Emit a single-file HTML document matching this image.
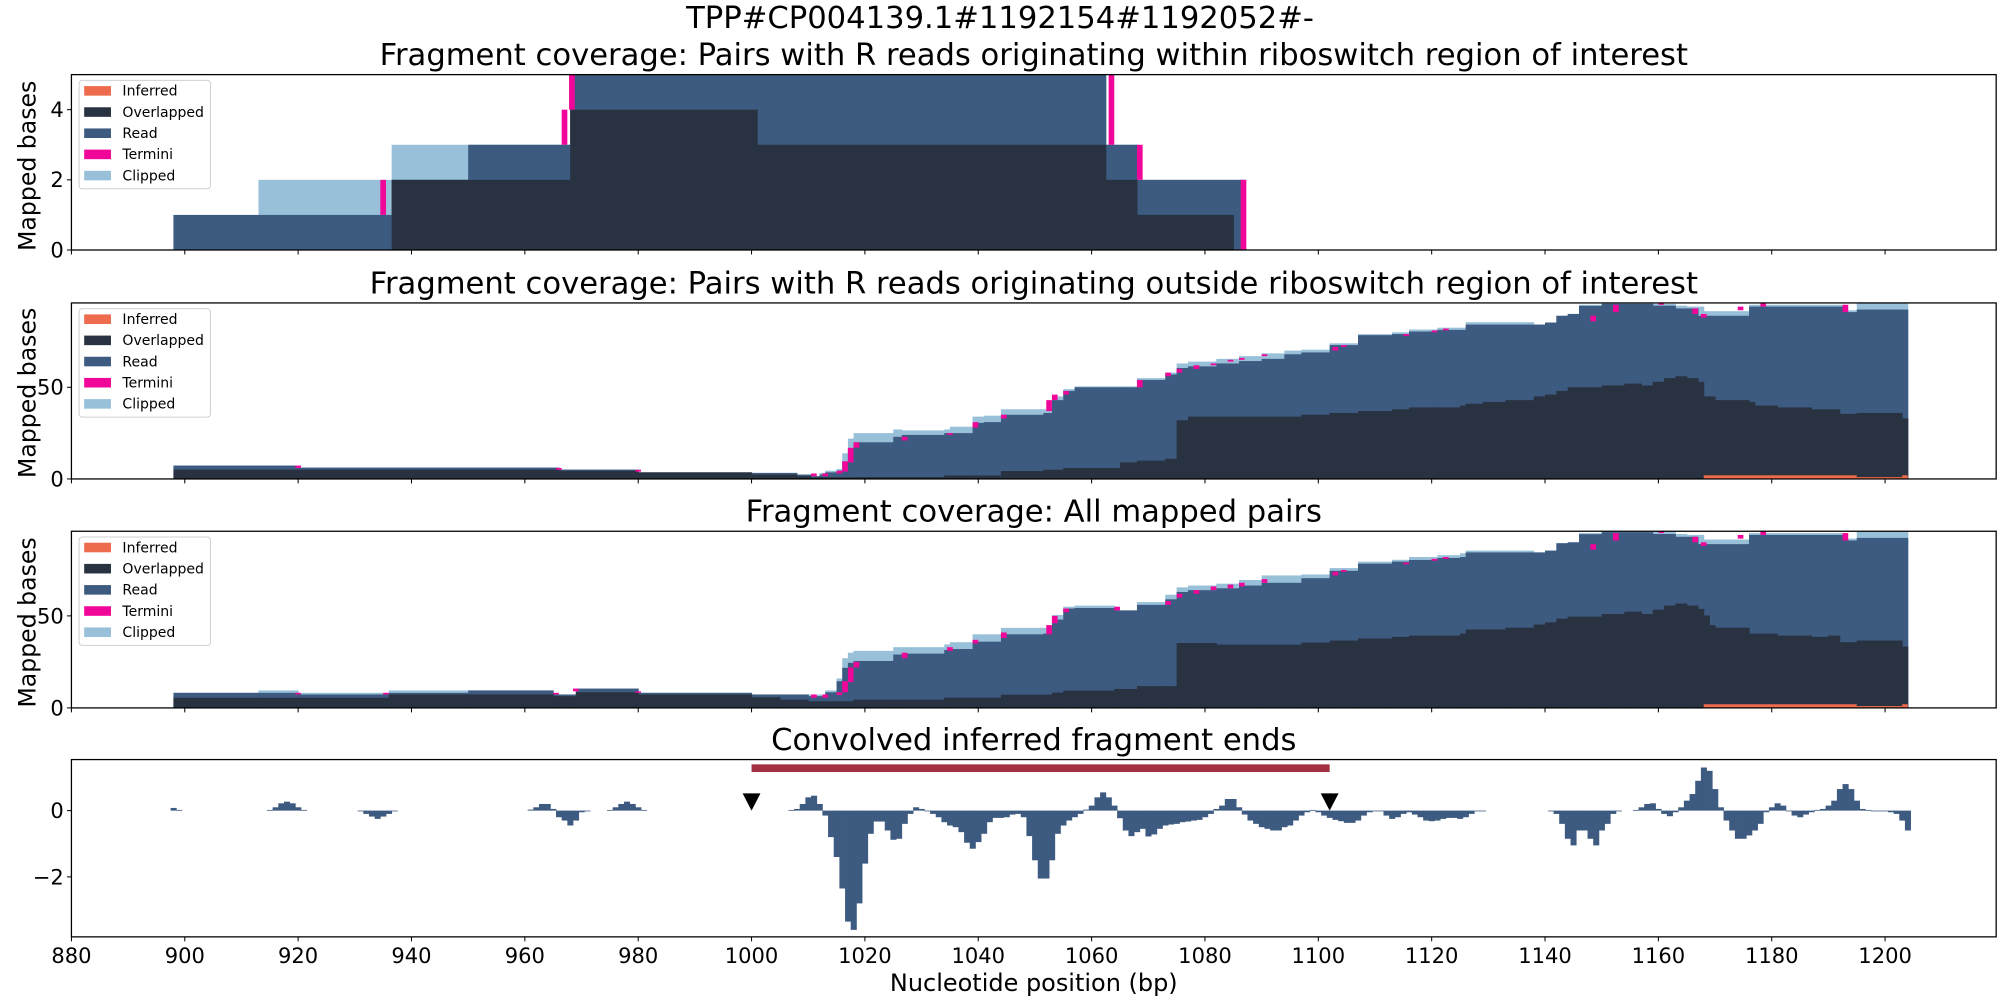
<!DOCTYPE html>
<html><head><meta charset="utf-8"><style>
html,body{margin:0;padding:0;background:#fff;}
svg{display:block;font-family:"DejaVu Sans","Liberation Sans",sans-serif;}
</style></head><body>
<svg id="chart" width="2000" height="1000" viewBox="0 0 1568 784" preserveAspectRatio="none" xmlns="http://www.w3.org/2000/svg">
<text x="784" y="22" font-size="24" text-anchor="middle">TPP#CP004139.1#1192154#1192052#-</text>
</svg>
<script>
// ---------- data ----------
const xTicks = [880,900,920,940,960,980,1000,1020,1040,1060,1080,1100,1120,1140,1160,1180,1200];
const legendLabels = ["Inferred","Overlapped","Read","Termini","Clipped"];

const p1Start = [898,913,935,936.5,950,968,1001,1062.5,1068,1085];
const p1End = 1087;
const p1Overlap = [0,0,0,2,2,4,3,2,1,0];
const p1Read    = [1,1,1,2,3,5,5,3,2,2];
const p1Clip    = [1,2,2,3,3,5,5,3,2,2];
const p1TermPos = [934.5,966.5,967.8,1063,1068,1086.3];
const p1TermLo  = [1,3,4,3,2,0];
const p1TermHi  = [2,4,5,5,3,2];
const p1Ticks = [0,2,4];

const p2Start = [898,920,966,980,1000,1008,1010.5,1012,1013,1015,
 1016,1017,1018,1025,1026.5,1034,1035,1039,1041,1044,
 1051.5,1053,1055,1057,1065,1068,1073,1075,1077,1082,
 1086,1090,1094,1097,1102,1107,1113,1116,1121,1125,
 1126,1129,1133,1138,1140,1142,1144,1146,1150,1154,
 1157,1159,1161,1163,1165,1167,1168,1170,1176,1177,
 1181,1187,1190,1192,1193,1195,1203];
const p2End = 1204;
const p2Overlap = [5.1,5.1,4.5,3.6,2.4,1.5,0.9,0.9,0.9,0.9,
 0.9,0.9,1,1,1,1.9,1.9,1.9,1.9,4.3,
 5,5,6,6,9,10,11,32,34,34,
 34,34,34,35,36,37,38,39,39,40,
 41,42,43,45,46,48,50,50,51,52,
 51,53,55,56,55,53,45,43,42,40,
 39,38,38,35.5,35.5,36,33];
const p2Read = [7.3,6.2,5.1,3.6,3.3,2.4,1.5,2.4,3.6,4.5,
 9.6,16.7,20,23,24,25,25,30.6,31,35,
 36,43,48,50,50,54,57,60.5,61.4,63,
 64.3,65.5,68,69,73,78.4,79,80.4,81.3,81.3,
 84.2,84.2,84.2,84.2,85.3,89,90,94.4,95.5,95.5,
 95.5,94.5,94.5,93,93,89,89,89,94,94,
 94,94,94,94,91,92.4,92.4];
const p2Clip = [7.3,6.2,5.1,3.6,3.3,2.4,1.5,3.3,4.5,5.4,
 14,22,25,27,26.5,27,28.5,34,34.5,38,
 38,45,49,50.5,50.5,55,58,63,64,65.5,
 67,68.5,70,70.5,74,79,80,81.5,82.5,82.5,
 85.5,85.5,85.5,84.2,85.3,89,90,95,96,96,
 96,95.5,95.5,94.5,94,94,91.5,91.5,95,95,
 95,95,95,95,92,96,96];
const p2InfStart = [1168,1195,1203];
const p2InfEnd = [1195,1203,1204];
const p2InfVal = [2,1,2];
const p2TermPos = [919.5,965.5,979.5,1010.5,1012.5,1015,1016,1017,1018,1026.5,1034.5,1039,1044,1052,1053,1055,1068,1073,1075,1078,1081,1084,1086,1090,1102.5,1104,1115,1120,1122,1148,1152,1160,1166,1167.5,1174,1178,1192.5];
const p2TermLo  = [6,5,4,1.5,1.5,3,4,9,17,21,24,28,33,37,43,46,50,56,58,60,62,64,65,67,70,72,78,80,81,86,91,95,90,88,92,94,91];
const p2TermHi  = [7.3,6,5,3,3,4.5,9.6,17,20,23,25,31,35,43,46,48,54,58,60,62,63,65,66,68,72,73,79,81,82,89,95,96,93,90,94,96,95];
const p3Ticks = [0,50];

const p3Start = [898,913,920,936,950,965,969,980,1000,1005,
 1010,1013,1015,1016,1017,1018,1025,1026.5,1034,1035,
 1039,1044,1051.5,1053,1055,1057,1064,1068,1073,1075,
 1077,1082,1086,1090,1097,1102,1107,1113,1116,1121,
 1125,1126,1133,1138,1140,1142,1144,1146,1150,1154,
 1157,1159,1161,1163,1165,1167,1168,1169,1170,1176,
 1181,1187,1190,1192,1193,1195,1203];
const p3End = 1204;
const p3Overlap = [5.5,5.5,5.5,7.3,7.3,6.4,8.5,7.3,5.8,4.5,
 3.6,3.6,3.6,3.6,3.6,4.5,4.5,4.5,5.6,5.6,
 5.6,7.2,7.2,8.3,9.4,9.4,10.3,11.8,11.8,35.3,
 35.3,34.4,34.4,34.4,35.5,36.6,37.7,38.6,39.3,39.3,
 40.4,42.6,43.6,45.3,46.5,48.5,49.6,49.6,51,52.3,
 51,53.4,55.6,56.7,55.6,53.8,50.2,45,43.6,40.4,
 39.3,38.6,39.3,35.7,35.7,36.6,33.3];
const p3Read = [8.2,8.2,7.3,8.2,9.5,7.3,10.5,8.2,7.3,7.3,
 6.4,8.5,14.5,21.8,24.5,25.5,29,29.5,31.5,32,
 36,40,40.4,48,54,54.3,53,56,59,63,
 64,65,66.5,68,70.5,74.5,78.4,79.5,80.4,81.5,
 82,84.5,84.5,84.5,85.5,89.5,90,94.4,95.5,95.5,
 95.5,94.5,94.5,93,93,89,89,89,89,94,
 94,94,94,94,91,92.4,92.4];
const p3Clip = [8.2,9.5,8.2,9.5,9.5,7.3,10.5,8.2,7.3,7.3,
 7.3,9.5,16,27,30,31,33,33,34.5,35.7,
 40,43.5,43.5,50.5,55,55.6,53,57.5,61.5,65.5,
 66.5,67.5,69.5,72,72.5,76,79.5,80.5,82,83,
 84,85.5,85.5,84.5,85.5,89.5,90,95,96,96,
 96,96,96,94.5,94,94,91.5,91.5,91.5,95,
 95,95,95,95,92,96,96];
const p3InfStart = [1168,1195,1203];
const p3InfEnd = [1195,1203,1204];
const p3InfVal = [2,1,2];
const p3TermPos = [919.5,935,965,968.5,979.5,1010.5,1012.5,1015,1016,1017,1018,1026.5,1034.5,1039,1044,1052,1053,1055,1064,1073,1075,1078,1081,1084,1086,1090,1102.5,1104,1115,1120,1122,1148,1152,1160,1166,1167.5,1174,1178,1192.5];
const p3TermLo  = [7.3,7.3,7.3,9,8.2,5.5,5.5,7,8.5,14,22,27,31,35,38,40,46,52,53,56,60,62,64,65,66,68,72,74,78,80,81,86,91,95,90,88,92,94,91];
const p3TermHi  = [8.2,8.2,8.2,10.5,9,7.3,7.3,8.5,14.5,22,25,30,33,37,41,45,50,54,55,58,62,64,66,67,68,70,74,75,79,81,82,89,95,96,93,90,94,96,95];

const p4Pos = [898,899,
 915,916,917,918,919,920,921,
 931,932,933,934,935,936,937,
 961,962,963,964,965,966,967,968,969,970,971,
 975,976,977,978,979,980,981,
 1007,1008,1009,1010,1011,1012,1013,1014,1015,1016,1017,1018,1019,1020,1021,1022,1023,1024,1025,1026,1027,1028,1029,1030,1031,1032,1033,1034,1035,1036,1037,1038,1039,1040,1041,1042,
 1043,1044,1045,1046,1047,1048,1049,1050,1051,1052,1053,1054,1055,1056,1057,1058,1059,1060,1061,1062,1063,1064,1065,1066,1067,1068,1069,1070,1071,1072,1073,1074,1075,1076,1077,1078,1079,1080,1081,1082,1083,1084,1085,1086,1087,1088,1089,1090,1091,1092,1093,1094,1095,1096,1097,1098,1099,1100,1101,1102,1103,1104,1105,1106,1107,1108,1109,1110,1111,1112,1113,1114,1115,1116,1117,1118,1119,1120,1121,1122,1123,1124,1125,1126,1127,1128,1129,
 1141,1142,1143,1144,1145,1146,1147,1148,1149,1150,1151,1152,1153,
 1156,1157,1158,1159,1160,1161,1162,1163,1164,1165,1166,1167,1168,1169,1170,1171,1172,1173,1174,1175,1176,1177,1178,1179,1180,1181,1182,1183,1184,1185,1186,1187,1188,1189,1190,1191,1192,1193,1194,1195,1196,1197,1198,1199,1200,1201,1202,1203,1204];
const p4Val = [0.08,0.02,
 0.02,0.1,0.22,0.27,0.22,0.1,0.02,
 -0.02,-0.1,-0.18,-0.25,-0.18,-0.1,-0.02,
 0.03,0.1,0.2,0.2,0.05,-0.2,-0.3,-0.45,-0.3,-0.05,-0.02,
 0.02,0.1,0.2,0.27,0.2,0.1,0.02,
 0.02,0.05,0.2,0.4,0.45,0.2,-0.15,-0.8,-1.4,-2.35,-3.35,-3.6,-2.8,-1.6,-0.7,-0.33,-0.33,-0.6,-0.88,-0.85,-0.4,-0.1,0.1,0.05,0.0,-0.1,-0.2,-0.35,-0.45,-0.5,-0.65,-0.97,-1.15,-0.95,-0.7,-0.35,
 -0.22,-0.22,-0.2,-0.12,-0.1,-0.2,-0.77,-1.5,-2.05,-2.05,-1.5,-0.7,-0.45,-0.3,-0.2,-0.1,0.03,0.15,0.4,0.55,0.4,0.15,-0.23,-0.6,-0.77,-0.65,-0.55,-0.78,-0.72,-0.55,-0.45,-0.42,-0.4,-0.35,-0.33,-0.3,-0.28,-0.2,-0.1,0.05,0.15,0.35,0.35,0.1,-0.12,-0.3,-0.4,-0.5,-0.55,-0.6,-0.6,-0.5,-0.45,-0.3,-0.15,-0.05,0.02,-0.05,-0.15,-0.22,-0.28,-0.32,-0.37,-0.37,-0.3,-0.15,-0.05,-0.02,-0.02,-0.15,-0.25,-0.2,-0.1,-0.05,-0.12,-0.2,-0.3,-0.32,-0.3,-0.25,-0.22,-0.22,-0.25,-0.2,-0.1,-0.02,-0.02,
 -0.02,-0.1,-0.4,-0.85,-1.05,-0.6,-0.6,-0.85,-1.05,-0.6,-0.4,-0.1,-0.02,
 0.02,0.1,0.2,0.22,0.05,-0.1,-0.17,-0.05,0.1,0.3,0.5,0.9,1.3,1.2,0.65,0.1,-0.3,-0.6,-0.85,-0.85,-0.75,-0.6,-0.4,-0.05,0.1,0.22,0.15,-0.02,-0.15,-0.2,-0.12,-0.05,0.02,0.05,0.15,0.3,0.65,0.8,0.65,0.3,0.05,0.02,0,0,-0.02,-0.05,-0.1,-0.3,-0.6];
const p4Region = [1000,1102];
const p4RegionY = 1.28;
const p4Markers = [1000,1102];
const p4Ticks = [-2,0];
const p4TickText = ["\u22122","0"];

// ---------- drawing ----------
const NS = "http://www.w3.org/2000/svg";
const svg = document.getElementById("chart");
const X0 = 56, X1 = 1565, XMIN = 880, XMAX = 1219.6;
const xs = d => X0 + (d - XMIN) * (X1 - X0) / (XMAX - XMIN);
const C = {inf:"#ee6c4d", ov:"#293241", rd:"#3d5a80", tm:"#f1069a", cl:"#98c1d9"};

function mk(tag, attrs, parent) {
  const e = document.createElementNS(NS, tag);
  for (const k in attrs) e.setAttribute(k, attrs[k]);
  (parent || svg).appendChild(e);
  return e;
}
function yScale(top, bot, lo, hi) { return v => bot - (v - lo) * (bot - top) / (hi - lo); }

function frame(g, top, bot, name) {
  const r = mk("rect", {x:X0, y:top, width:X1-X0, height:bot-top, fill:"none", stroke:"#000", "stroke-width":1}, g);
  
  
  xTicks.forEach(t => {
    const l = mk("line", {x1:xs(t), x2:xs(t), y1:bot, y2:bot+3.5, stroke:"#000", "stroke-width":0.8}, g);
    
    
  });
}
function yTicks(g, ys, ticks, labels) {
  ticks.forEach((t, i) => {
    const y = ys(t);
    const l = mk("line", {x1:X0-3.5, x2:X0, y1:y, y2:y, stroke:"#000", "stroke-width":0.8}, g);
    
    
    const tx = mk("text", {x:X0-6, y:y+5.8, "font-size":16.5, "text-anchor":"end"}, g);
    tx.textContent = labels ? labels[i] : String(t);
    
    
  });
}
function title(text, y, name) {
  const t = mk("text", {x:810.5, y:y, "font-size":24, "text-anchor":"middle"});
  t.textContent = text;
  
  
}
function ylabel(cy, name) {
  const t = mk("text", {x:0, y:0, "font-size":18.5, "text-anchor":"middle", transform:`translate(28,${cy}) rotate(-90)`});
  t.textContent = "Mapped bases";
  
  
}
function legend(top, name) {
  const g = mk("g", {});
  
  
  const b = mk("rect", {x:62, y:top, width:103, height:85, rx:2.5, fill:"#fff", "fill-opacity":0.85, stroke:"#d0d0d0", "stroke-width":0.8}, g);
  
  
  const cols = [C.inf, C.ov, C.rd, C.tm, C.cl];
  legendLabels.forEach((lab, i) => {
    const y = top + 8 + i * 16.6;
    const p = mk("rect", {x:66, y:y-3.5, width:21, height:7.5, fill:cols[i]}, g);
    
    
    const t = mk("text", {x:96, y:y+4, "font-size":11}, g);
    t.textContent = lab;
    
    
  });
}
function stack(g, ys, starts, end, ov, rd, cl, infS, infE, infV, tp, tlo, thi) {
  const n = starts.length;
  const endOf = i => (i < n - 1 ? starts[i + 1] : end);
  const layers = [[cl, C.cl, 'clipped'], [rd, C.rd, 'read'], [ov, C.ov, 'overlapped']];
  layers.forEach(([arr, col, nm]) => {
    for (let i = 0; i < n; i++) {
      if (arr[i] <= 0) continue;
      const x = xs(starts[i]), w = xs(endOf(i)) - x;
      const r = mk("rect", {x:x, y:ys(arr[i]), width:w + 0.4, height:ys(0) - ys(arr[i]), fill:col}, g);
      
      
    }
  });
  if (infS) infS.forEach((s, i) => {
    const r = mk("rect", {x:xs(s), y:ys(infV[i]), width:xs(infE[i]) - xs(s), height:ys(0) - ys(infV[i]), fill:C.inf}, g);
    
    
  });
  tp.forEach((p, i) => {
    const r = mk("rect", {x:xs(p), y:ys(thi[i]), width:xs(p + 1) - xs(p), height:ys(tlo[i]) - ys(thi[i]), fill:C.tm}, g);
    
    
  });
}

// Panel 1
title("Fragment coverage: Pairs with R reads originating within riboswitch region of interest", 51, "panel1-title");
const g1 = mk("g", {});  
const y1 = yScale(58.5, 196, 0, 5);
stack(g1, y1, p1Start, p1End, p1Overlap, p1Read, p1Clip, null, null, null, p1TermPos, p1TermLo, p1TermHi);
frame(g1, 58.5, 196, 'panel1'); yTicks(g1, y1, p1Ticks); ylabel(130, 'panel1-y-axis-title'); legend(63, 'panel1-legend');

// Panel 2
title("Fragment coverage: Pairs with R reads originating outside riboswitch region of interest", 230, "panel2-title");
const g2 = mk("g", {});  
const y2 = yScale(237.5, 375.5, 0, 96);
stack(g2, y2, p2Start, p2End, p2Overlap, p2Read, p2Clip, p2InfStart, p2InfEnd, p2InfVal, p2TermPos, p2TermLo, p2TermHi);
frame(g2, 237.5, 375.5, 'panel2'); yTicks(g2, y2, p3Ticks); ylabel(308, 'panel2-y-axis-title'); legend(242, 'panel2-legend');

// Panel 3
title("Fragment coverage: All mapped pairs", 409, "panel3-title");
const g3 = mk("g", {});  
const y3 = yScale(416.5, 555, 0, 96);
stack(g3, y3, p3Start, p3End, p3Overlap, p3Read, p3Clip, p3InfStart, p3InfEnd, p3InfVal, p3TermPos, p3TermLo, p3TermHi);
frame(g3, 416.5, 555, 'panel3'); yTicks(g3, y3, p3Ticks); ylabel(488, 'panel3-y-axis-title'); legend(421, 'panel3-legend');

// Panel 4
title("Convolved inferred fragment ends", 588, "panel4-title");
const g4 = mk("g", {});  
const y4 = yScale(595.5, 734.5, -3.81, 1.54);
p4Pos.forEach((p, i) => {
  const v = p4Val[i];
  const a = y4(Math.max(v, 0)), b = y4(Math.min(v, 0));
  const r = mk("rect", {x:xs(p - 0.5), y:a, width:xs(p + 0.5) - xs(p - 0.5) + 0.3, height:Math.max(b - a, 0.6), fill:C.rd}, g4);
  
  
});
const rb = mk("rect", {x:xs(p4Region[0]), y:y4(p4RegionY) - 3, width:xs(p4Region[1]) - xs(p4Region[0]), height:6, fill:"#a23040"}, g4);


p4Markers.forEach(m => {
  const x = xs(m), yt = y4(0), yh = y4(0.52);
  const t = mk("polygon", {points:`${x-7},${yh} ${x+7},${yh} ${x},${yt}`, fill:"#000"}, g4);
  
  
});
frame(g4, 595.5, 734.5, 'panel4'); yTicks(g4, y4, p4Ticks, p4TickText);
xTicks.forEach(t => {
  const tx = mk("text", {x:xs(t), y:755, "font-size":16.5, "text-anchor":"middle"}, g4);
  tx.textContent = String(t);
  
  
});
const xl = mk("text", {x:810.5, y:777, "font-size":18.8, "text-anchor":"middle"});
xl.textContent = "Nucleotide position (bp)";


</script>
</body></html>
